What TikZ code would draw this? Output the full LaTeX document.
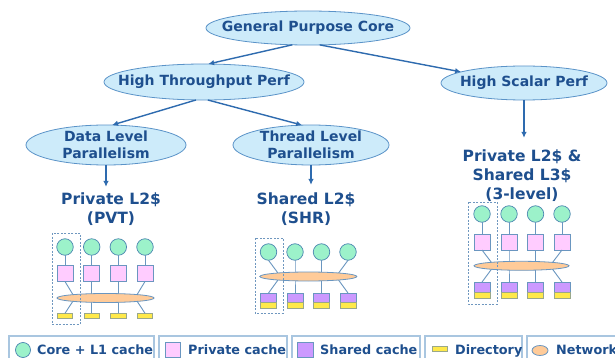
\documentclass[tikz,border=0pt]{standalone}
\usepackage{fontspec}
\setmainfont{DejaVu Sans}
\usetikzlibrary{shapes.geometric,arrows.meta,calc}
\definecolor{txt}{HTML}{1E4F8E}
\definecolor{ellfill}{HTML}{CDEBFA}
\definecolor{elldraw}{HTML}{5A93C8}
\definecolor{arrc}{HTML}{2E6BAF}
\definecolor{corefill}{HTML}{9CF2CA}
\definecolor{coredraw}{HTML}{4A86B0}
\definecolor{wirec}{HTML}{6A96C0}
\definecolor{pinkfill}{HTML}{FFCCFF}
\definecolor{purfill}{HTML}{CC99FF}
\definecolor{yelfill}{HTML}{FFE94A}
\definecolor{dirdraw}{HTML}{9AA88A}
\definecolor{netfill}{HTML}{FFCB99}
\definecolor{legbox}{HTML}{A9C6E0}
\definecolor{dashc}{HTML}{6F97BF}
\begin{document}
\begin{tikzpicture}[x=1pt,y=-1pt,
  bub/.style={ellipse, draw=elldraw, fill=ellfill, line width=0.8pt, inner sep=0pt, outer sep=0pt},
  bubtext/.style={text=txt, font=\fontsize{14}{17}\selectfont\bfseries, align=center, inner sep=0pt},
  captext/.style={text=txt, font=\fontsize{15.5}{19}\selectfont\bfseries, align=center, inner sep=0pt},
  arr/.style={-{Latex[length=6pt,width=5.5pt]}, draw=arrc, line width=1.4pt},
  core/.style={circle, draw=coredraw, fill=corefill, minimum size=16.5pt, inner sep=0pt, outer sep=0pt, line width=0.7pt},
  pc/.style={rectangle, draw=wirec, fill=pinkfill, minimum width=16pt, minimum height=16pt, inner sep=0pt, outer sep=0pt, line width=0.7pt},
  sc/.style={rectangle, draw=wirec, fill=purfill, minimum width=16pt, minimum height=10pt, inner sep=0pt, outer sep=0pt, line width=0.7pt},
  dirc/.style={rectangle, draw=dirdraw, fill=yelfill, minimum width=15.5pt, minimum height=5.5pt, inner sep=0pt, outer sep=0pt, line width=0.6pt},
  net/.style={ellipse, draw=wirec, fill=netfill, minimum width=97pt, minimum height=9pt, inner sep=0pt, line width=0.8pt},
  wire/.style={draw=wirec, line width=0.9pt},
  grp/.style={draw=dashc, dash pattern=on 2pt off 1.5pt, line width=0.8pt},
  legtext/.style={text=txt, font=\fontsize{12.8}{15}\selectfont\bfseries, anchor=base west, inner sep=0pt},
  legbx/.style={draw=legbox, line width=1.6pt}
]
\useasboundingbox (0,0) rectangle (615,358);
\fill[white] (0,0) rectangle (615,358);

% ---------- tree ----------
\node[bub, minimum width=204pt, minimum height=34pt] (gpc) at (308,28) {};
\node[bubtext] (gpc-t) at (gpc) {General Purpose Core};
\node[bub, minimum width=200pt, minimum height=36pt] (htp) at (204,82) {};
\node[bubtext] (htp-t) at (htp) {High Throughput Perf};
\node[bub, minimum width=166pt, minimum height=34pt] (hsp) at (524,83) {};
\node[bubtext] (hsp-t) at (hsp) {High Scalar Perf};
\node[bub, minimum width=160pt, minimum height=40pt] (dlp) at (106,145) {};
\node[bubtext] (dlp-t) at (dlp) {Data Level\\Parallelism};
\node[bub, minimum width=156pt, minimum height=40pt] (tlp) at (311,145) {};
\node[bubtext] (tlp-t) at (tlp) {Thread Level\\Parallelism};

\node[captext] (pvt) at (111,209.5) {Private L2\$\\(PVT)};
\node[captext] (shr) at (306,209.5) {Shared L2\$\\(SHR)};
\node[captext] (l3) at (522,176) {Private L2\$ \&\\Shared L3\$\\(3-level)};

\draw[arr] (gpc.227) -- (htp.77);
\draw[arr] (gpc.305) -- (hsp.170);
\draw[arr] (htp.246) -- (dlp.73);
\draw[arr] (htp.282) -- (tlp.114);
\draw[arr] (hsp.south) -- ($(hsp.south |- l3.north)+(0,-12)$);
\draw[arr] (dlp.south) -- ($(dlp.south |- pvt.north)+(0,-6)$);
\draw[arr] (tlp.south) -- ($(tlp.south |- shr.north)+(0,-8)$);

% ---------- PVT ----------
\foreach \x [count=\i] in {65,91.7,118.3,145} {
  \node[core] (a-c\i) at (\x,247) {};
  \node[pc] (a-p\i) at (\x,273.5) {};
  \node[dirc] (a-d\i) at (\x,316) {};
}
\coordinate (a-n1) at (75,298);
\coordinate (a-n2) at (91.7,298);
\coordinate (a-n3) at (118.3,298);
\coordinate (a-n4) at (135,298);
\foreach \i in {1,...,4} {
  \draw[wire] (a-c\i) -- (a-p\i);
  \draw[wire] (a-p\i.south) -- (a-n\i) -- (a-d\i.north);
}
\node[net] (a-net) at (105.5,298) {};
\draw[grp] (52,233) rectangle (80,324);

% ---------- SHR ----------
\foreach \x [count=\i] in {268.5,295,321.5,348} {
  \node[core] (b-c\i) at (\x,252) {};
  \node[sc, minimum height=9.5pt] (b-s\i) at (\x,297.8) {};
  \node[dirc, minimum width=16pt, anchor=north] (b-d\i) at (b-s\i.south) {};
}
\coordinate (b-n1) at (280.5,276.5);
\coordinate (b-n2) at (295,276.5);
\coordinate (b-n3) at (321.5,276.5);
\coordinate (b-n4) at (336,276.5);
\foreach \i in {1,...,4} {
  \draw[wire] (b-c\i.south) -- (b-n\i) -- (b-s\i.north);
}
\node[net] (b-net) at (308.3,276.5) {};
\draw[grp] (255,238) rectangle (283,313);

% ---------- 3-level ----------
\foreach \x [count=\i] in {482,509,535.5,562} {
  \node[core] (c-c\i) at (\x,214) {};
  \node[pc] (c-p\i) at (\x,242) {};
  \node[sc, minimum height=10.5pt] (c-s\i) at (\x,287.3) {};
  \node[dirc, minimum width=16pt, anchor=north] (c-d\i) at (c-s\i.south) {};
}
\coordinate (c-n1) at (494,265.8);
\coordinate (c-n2) at (509,265.8);
\coordinate (c-n3) at (535.5,265.8);
\coordinate (c-n4) at (550,265.8);
\foreach \i in {1,...,4} {
  \draw[wire] (c-c\i) -- (c-p\i);
  \draw[wire] (c-p\i.south) -- (c-n\i) -- (c-s\i.north);
}
\node[net, minimum width=95pt] (c-net) at (521.5,265.8) {};
\draw[grp] (468,202) rectangle (497,304);

% ---------- legend ----------
\draw[legbx] (9,336) rectangle (154,366);
\draw[legbx] (159,336) rectangle (287,366);
\draw[legbx] (292,336) rectangle (420,366);
\draw[legbx] (425,336) rectangle (522,366);
\draw[legbx] (527,336) rectangle (625,366);

\node[core, minimum size=15pt] (l-core) at (23,350) {};
\node[legtext] (l-core-t) at (37,354) {Core + L1 cache};
\node[pc, minimum width=15pt, minimum height=15pt] (l-pc) at (172.5,349.5) {};
\node[legtext] (l-pc-t) at (188,354) {Private cache};
\node[sc, minimum width=16pt, minimum height=15pt] (l-sc) at (305,349.5) {};
\node[legtext] (l-sc-t) at (320,354) {Shared cache};
\node[dirc, minimum width=15pt, minimum height=5pt] (l-dir) at (439.5,348.5) {};
\node[legtext] (l-dir-t) at (455,354) {Directory};
\node[net, minimum width=16pt, minimum height=10pt] (l-net) at (540,350.5) {};
\node[legtext] (l-net-t) at (556,354) {Network};
\end{tikzpicture}
\end{document}
